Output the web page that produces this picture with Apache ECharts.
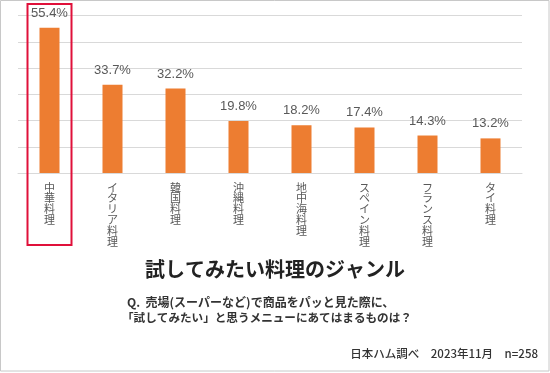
<!DOCTYPE html>
<html><head><meta charset="utf-8">
<script src="https://cdn.jsdelivr.net/npm/echarts@6/dist/echarts.min.js"></script>
<style>html,body{margin:0;padding:0;background:#fff}#c{width:550px;height:373px}</style>
</head><body><div id="c"></div>
<script>
const categories = ['中華料理','イタリア料理','韓国料理','沖縄料理','地中海料理','スペイン料理','フランス料理','タイ料理'];
const values = [55.4, 33.7, 32.2, 19.8, 18.2, 17.4, 14.3, 13.2];
const titleText = '試してみたい料理のジャンル';
const questionLines = ['Q.  売場(スーパーなど)で商品をパッと見た際に、', '「試してみたい」と思うメニューにあてはまるものは？'];
const sourceText = '日本ハム調べ　2023年11月　n=258';
const highlightIndex = 0;

const JP = '"Noto Sans CJK JP", "Noto Sans", sans-serif';
const chart = echarts.init(document.getElementById('c'), null, {renderer:'canvas'});
const option = {
  animation: false,
  backgroundColor: '#fff',
  grid: {left: 18, right: 28, top: 15.7, bottom: 200, containLabel: false},
  xAxis: {
    type: 'category', data: categories,
    axisLine: {lineStyle: {color: '#d9d9d9', width: 1}},
    axisTick: {show: false},
    axisLabel: {
      interval: 0, margin: 9, color: '#595959', fontSize: 11, lineHeight: 10.8,
      fontFamily: JP, verticalAlign: 'top',
      formatter: v => v.split('').join('\n')
    }
  },
  yAxis: {
    type: 'value', min: 0, max: 60, interval: 10,
    axisLabel: {show: false}, axisLine: {show: false}, axisTick: {show: false},
    splitLine: {lineStyle: {color: '#d9d9d9', width: 1}}
  },
  series: [{
    type: 'bar', data: values, barWidth: 20,
    itemStyle: {color: '#ED7D31'},
    label: {show: true, position: 'top', distance: 8, color: '#595959', fontSize: 13,
      fontFamily: '"Liberation Sans", Arial, sans-serif', formatter: p => p.value.toFixed(1) + '%'}
  }],
  graphic: []
};
chart.setOption(option);

const cx = chart.convertToPixel({xAxisIndex: 0}, categories[highlightIndex]);
chart.setOption({
  graphic: [
    {type: 'rect', silent: true, shape: {x: 0.5, y: 0.5, width: 548.5, height: 370.5},
      style: {fill: 'none', stroke: '#c8c8c8', lineWidth: 1}},
    {type: 'rect', silent: true, z: 100, shape: {x: cx - 22, y: 4, width: 44, height: 241},
      style: {fill: 'none', stroke: '#E0103A', lineWidth: 2}},
    {type: 'text', silent: true, style: {text: titleText, x: 275, y: 269, align: 'center', verticalAlign: 'middle',
      font: 'bold 20px ' + JP, fill: '#222', textAlign: 'center', textVerticalAlign: 'middle'}},
    {type: 'text', silent: true, style: {text: questionLines[0], x: 127, y: 302, verticalAlign: 'middle', textVerticalAlign: 'middle',
      font: 'bold 12px ' + JP, fill: '#333'}},
    {type: 'text', silent: true, style: {text: questionLines[1], x: 122, y: 318, verticalAlign: 'middle', textVerticalAlign: 'middle',
      font: 'bold 11.6px ' + JP, fill: '#333'}},
    {type: 'text', silent: true, style: {text: sourceText, x: 538, y: 354, align: 'right', textAlign: 'right', verticalAlign: 'middle', textVerticalAlign: 'middle',
      font: '500 11.5px ' + JP, fill: '#333'}}
  ]
});
</script>
</body></html>
